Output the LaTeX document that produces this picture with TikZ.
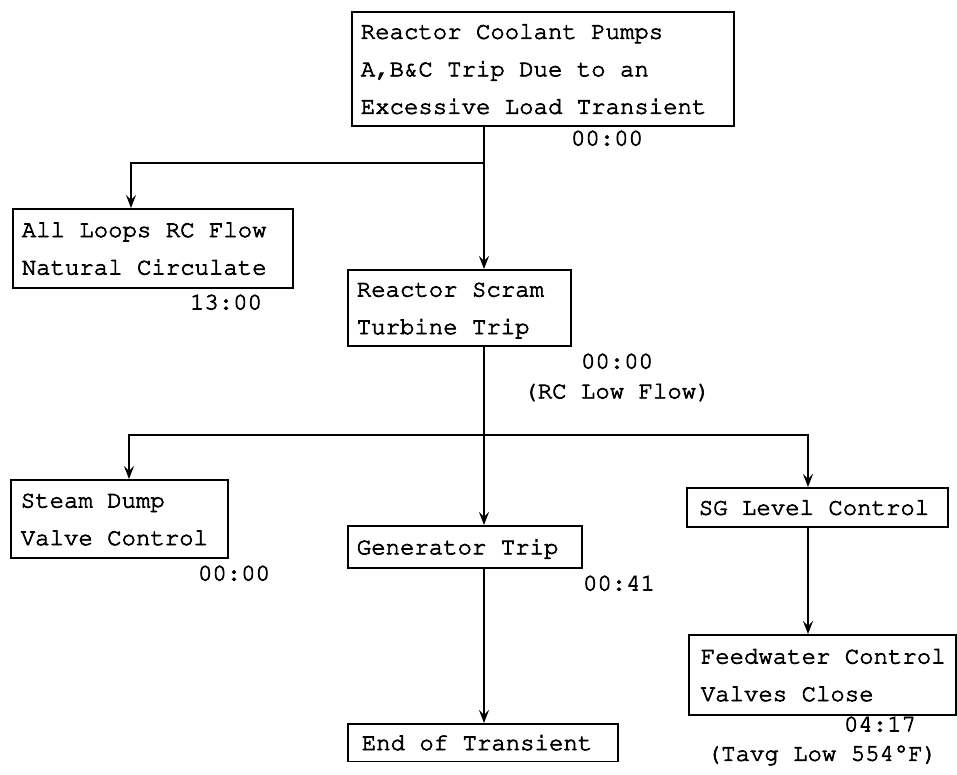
\documentclass[tikz,border=0pt]{standalone}
\usepackage[T1]{fontenc}
\usepackage{textcomp}
\usepackage{courier}
\usetikzlibrary{arrows.meta}

% typewriter face with slightly heavier strokes
\newcommand\twfont[1]{\ttfamily\fontsize{24}{#1}\selectfont
  \special{pdf:literal direct 2 Tr 0.7 w}}
% one full character cell of blank, as on a typewriter
\newcommand\ws{\hphantom{x}}
% stacked lines of a box, each set as a plain horizontal box
\newcommand\stacklines[1]{\begin{tabular}{@{}l@{}}#1\end{tabular}}

\tikzset{
  box/.style={draw, line width=1.6pt, rectangle, anchor=north west,
    inner xsep=9pt, inner ysep=0pt, align=left,
    font=\twfont{37.5pt}},
  lbl/.style={font=\twfont{30pt}, inner sep=0pt},
  wire/.style={line width=1.6pt},
  arr/.style={wire, -{Stealth[length=13pt,width=10pt,inset=5pt]}}
}

\begin{document}
\begin{tikzpicture}[x=1pt, y=-1pt]
\useasboundingbox (0,0) rectangle (957,775);

% event boxes
\node[box, text width=364pt, minimum height=114pt] (top) at (351,11)
  {\stacklines{Reactor\ws Coolant\ws Pumps\\A,B\&C\ws Trip\ws Due\ws to\ws an\\Excessive\ws Load\ws Transient}};
\node[box, text width=262pt, minimum height=79pt] (loops) at (12,208)
  {\stacklines{All\ws Loops\ws RC\ws Flow\\Natural\ws Circulate}};
\node[box, text width=205pt, minimum height=76pt] (scram) at (347,269)
  {\stacklines{Reactor\ws Scram\\Turbine\ws Trip}};
\node[box, inner xsep=10pt, text width=197pt, minimum height=78pt] (steam) at (10,479)
  {\stacklines{Steam\ws Dump\\Valve\ws Control}};
\node[box, text width=216pt, minimum height=42pt] (gen) at (347,525)
  {\stacklines{Generator\ws Trip}};
\node[box, inner xsep=12pt, text width=237pt, minimum height=39pt] (sg) at (686,487)
  {\stacklines{SG\ws Level\ws Control}};
\node[box, inner xsep=12pt, text width=243pt, minimum height=80pt] (feed) at (688,634)
  {\stacklines{Feedwater\ws Control\\Valves\ws Close}};
\node[box, inner xsep=14pt, text width=242pt, minimum height=37pt] (endt) at (347,723)
  {\stacklines{End\ws of\ws Transient}};

% times and conditions
\node[lbl] (t1) at (607,138) {00:00};
\node[lbl] (t2) at (226,302) {13:00};
\node[lbl] (t3) at (617,361) {00:00};
\node[lbl] (c3) at (617,392) {(RC\ws Low\ws Flow)};
\node[lbl] (t4) at (234,573) {00:00};
\node[lbl] (t5) at (619,583) {00:41};
\node[lbl] (t6) at (880,724) {04:17};
\node[lbl] (c6) at (822,755) {(Tavg\ws Low\ws 554\textdegree F)};

% connector columns and junctions
\coordinate (colA) at (484,0);
\coordinate (colL) at (131,0);
\coordinate (colSD) at (129,0);
\coordinate (colSG) at (808,0);
\coordinate (j1) at (484,163);
\coordinate (j2) at (484,435);

% connectors
\draw[wire] (top.south -| colA) -- (j1);
\draw[arr] (j1) -- (scram.north -| colA);
\draw[arr] (j1) -| (loops.north -| colL);
\draw[wire] (scram.south -| colA) -- (j2);
\draw[arr] (j2) -- (gen.north -| colA);
\draw[arr] (j2) -| (steam.north -| colSD);
\draw[arr] (j2) -| (sg.north -| colSG);
\draw[arr] (gen.south -| colA) -- (endt.north -| colA);
\draw[arr] (sg.south -| colSG) -- (feed.north -| colSG);
\end{tikzpicture}
\end{document}
